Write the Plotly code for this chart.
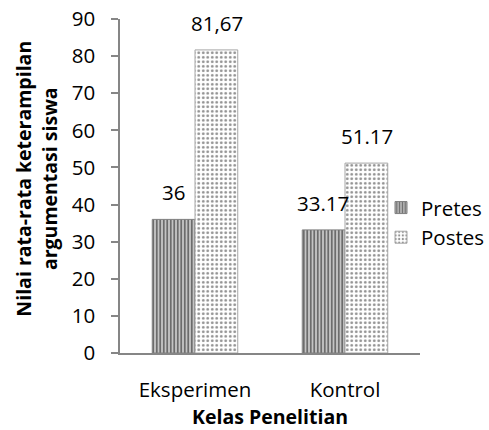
import plotly.graph_objects as go

# Mean argumentation-skill scores per research class
categories = ["Eksperimen", "Kontrol"]
pretes = [36, 33.17]
postes = [81.67, 51.17]
pretes_labels = ["36", "33.17"]
postes_labels = ["81,67", "51.17"]
y_ticks = [0, 10, 20, 30, 40, 50, 60, 70, 80, 90]

FONT = "Open Sans"
FS = 20.5
AXIS_GREY = "#868686"

fig = go.Figure()
fig.add_trace(go.Bar(
    name="Pretes", x=categories, y=pretes,
    marker=dict(
        color="#bfbfbf",
        line=dict(color="#7f7f7f", width=1),
        pattern=dict(shape="|", fgcolor="#000000", bgcolor="#d9d9d9",
                     size=3.5, solidity=0.6),
    ),
))
fig.add_trace(go.Bar(
    name="Postes", x=categories, y=postes,
    marker=dict(
        color="#ffffff",
        line=dict(color="#a6a6a6", width=1),
        pattern=dict(shape=".", fgcolor="#222222", bgcolor="#ffffff",
                     size=4.5, solidity=0.3),
    ),
))

# value labels above each bar
annotations = []
for cat, val, lab in zip(categories, pretes, pretes_labels):
    annotations.append(dict(x=cat, y=val, text=lab, xref="x", yref="y",
                            xshift=-22, yshift=11, yanchor="bottom",
                            showarrow=False, font=dict(size=FS)))
for cat, val, lab in zip(categories, postes, postes_labels):
    annotations.append(dict(x=cat, y=val, text=lab, xref="x", yref="y",
                            xshift=22, yshift=11, yanchor="bottom",
                            showarrow=False, font=dict(size=FS)))

# axis titles
annotations.append(dict(
    text="<b>Nilai rata-rata keterampilan<br>argumentasi siswa</b>",
    xref="paper", yref="paper", x=-0.28, y=0.522, textangle=-90,
    xanchor="center", yanchor="middle", showarrow=False,
    font=dict(size=19.5)))
annotations.append(dict(
    text="<b>Kelas Penelitian</b>", xref="paper", yref="paper",
    x=0.5, y=-0.19, xanchor="center", yanchor="middle",
    showarrow=False, font=dict(size=19.5)))

fig.update_layout(
    width=489, height=430,
    margin=dict(l=120, r=69, t=19, b=77, autoexpand=False),
    paper_bgcolor="white", plot_bgcolor="white",
    font=dict(family=FONT, size=FS, color="#000000"),
    barmode="group", bargap=0.43, bargroupgap=0,
    showlegend=True,
    legend=dict(x=0.87, y=0.39, xanchor="left", yanchor="middle",
                bgcolor="rgba(0,0,0,0)", font=dict(size=FS),
                itemwidth=30, tracegroupgap=0),
    annotations=annotations,
)
fig.update_yaxes(
    range=[0, 90], tickvals=y_ticks, showgrid=False, zeroline=False,
    showline=True, linecolor=AXIS_GREY, linewidth=1.5,
    ticks="outside", ticklen=7, tickcolor=AXIS_GREY, tickwidth=1.5,
    ticklabelstandoff=12,
)
fig.update_xaxes(
    showgrid=False, showline=True, linecolor=AXIS_GREY, linewidth=1.5,
    ticks="", ticklabelstandoff=18,
)

fig.write_html("out.html")
